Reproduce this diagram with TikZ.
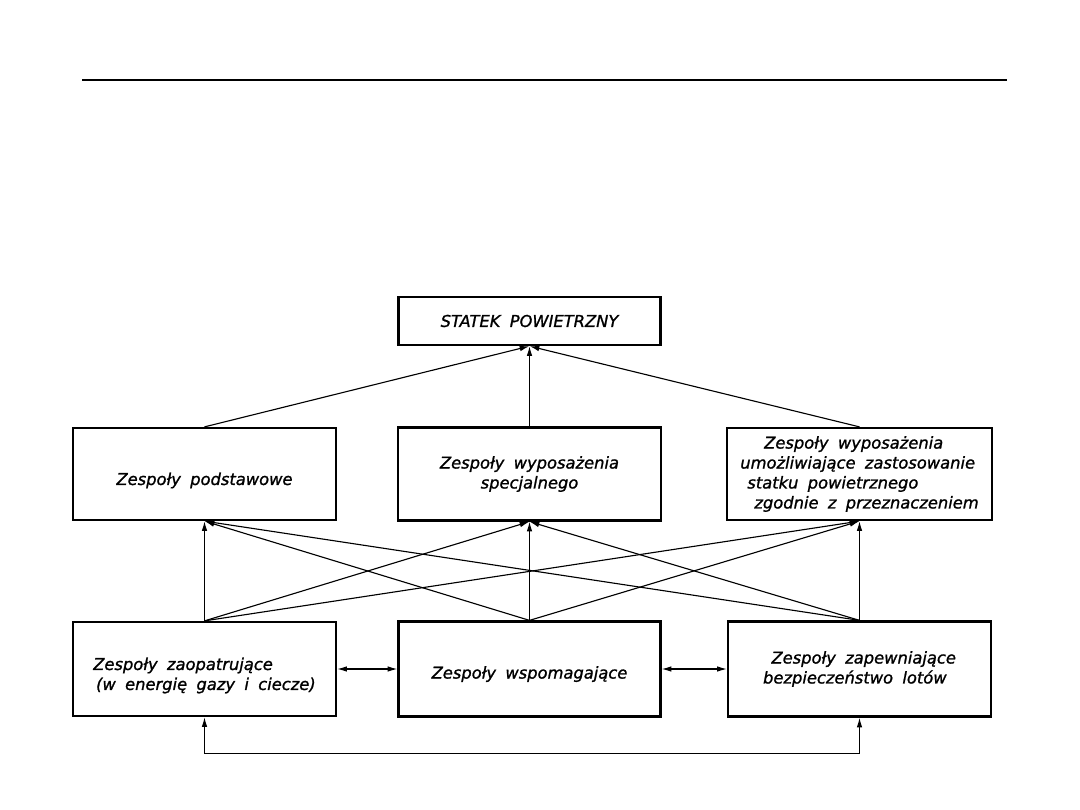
\documentclass[tikz,border=0pt]{standalone}
\usepackage{fontspec}
\usetikzlibrary{arrows.meta}
\newfontfamily\lbl{DejaVu Sans}[ItalicFont={DejaVu Sans Oblique},WordSpace=1.8,FakeBold=1.2]
\tikzset{
  blk/.style={draw,line width=1.6pt,minimum width=263*0.025cm,minimum height=93*0.025cm,
    inner sep=0pt,font=\lbl\itshape\fontsize{11.6}{14.2}\selectfont,align=center},
  con/.style={line width=0.8pt},
  arr/.style={con,-{Latex[length=7pt,width=4pt]}},
  arrb/.style={con,{Latex[length=7pt,width=4pt]}-{Latex[length=7pt,width=4pt]}}
}
\begin{document}
\begin{tikzpicture}[x=0.025cm,y=-0.025cm]
\useasboundingbox (0,0) rectangle (1080,810);
\coordinate (r1) at (82,80);
\coordinate (r2) at (1007,80);
\draw[line width=2pt] (r1) -- (r2);

\node[blk,minimum height=48*0.025cm,minimum width=262*0.025cm] (top) at (529.5,321) {STATEK POWIETRZNY};

\node[blk,minimum height=92*0.025cm] (ml) at (204.5,474) {\rule{0pt}{18pt}Zespoły podstawowe};
\node[blk] (mm) at (529.5,474) {Zespoły wyposażenia\\specjalnego};
\node[blk,minimum width=265*0.025cm,minimum height=92*0.025cm,align=left] (mr) at (859.5,474)
  {\hspace*{17pt}Zespoły wyposażenia\\umożliwiające zastosowanie\\\hspace*{5pt}statku powietrznego\\\hspace*{10pt}zgodnie z przeznaczeniem};

\node[blk,minimum height=94*0.025cm,align=left] (bl) at (204.5,669)
  {\rule{0pt}{18pt}Zespoły zaopatrujące\\\hspace*{2pt}(w energię gazy i ciecze)};
\node[blk,minimum height=95*0.025cm,minimum width=262*0.025cm] (bm) at (529.5,669) {\rule{0pt}{16pt}Zespoły wspomagające};
\node[blk,minimum height=95*0.025cm,align=left] (br) at (859.5,669)
  {\hspace*{6pt}Zespoły zapewniające\\bezpieczeństwo lotów};

% to top box
\draw[arr] (ml.north) -- (top.south);
\draw[arr] (mm.north) -- (top.south);
\draw[arr] (mr.north) -- (top.south);

% bottom row to middle row
\foreach \b in {bl,bm,br}{
  \foreach \m in {ml,mm,mr}{
    \draw[arr] (\b.north) -- (\m.south);
  }
}

% horizontal links
\draw[arrb] (bl.east) -- (bm.west);
\draw[arrb] (bm.east) -- (br.west);

% feedback loop
\draw[arrb] (bl.south) -- ++(0,36) -| (br.south);
\end{tikzpicture}
\end{document}
